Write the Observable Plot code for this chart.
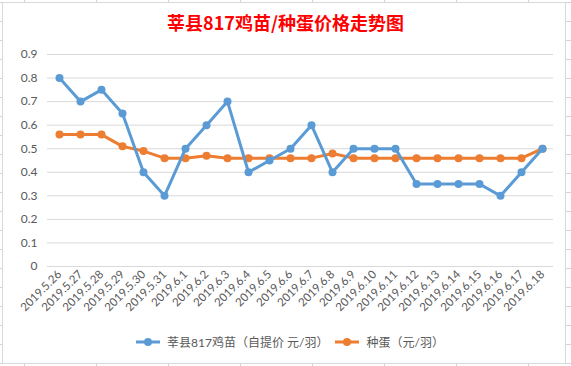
<!DOCTYPE html>
<html>
<head>
<meta charset="utf-8">
<script src="https://cdn.jsdelivr.net/npm/d3@7"></script>
<script src="https://cdn.jsdelivr.net/npm/@observablehq/plot@0.6"></script>
<style>
  html, body { margin: 0; padding: 0; }
  body {
    width: 571px; height: 366px; overflow: hidden; position: relative;
    background-color: #fff;
    background-image:
      repeating-linear-gradient(to right, transparent 0, transparent 24px, #d4d4d4 24px, #d4d4d4 25px, transparent 25px, transparent 72px),
      repeating-linear-gradient(to bottom, transparent 0, transparent 2px, #d4d4d4 2px, #d4d4d4 3px, transparent 3px, transparent 19px);
    background-position: 0 0, 0 0;
    font-family: Lato, "Noto Sans CJK SC", sans-serif;
  }
  #chart {
    position: absolute; left: 2px; top: 2px; width: 562px; height: 360px;
    background: #fff; border: 1px solid #d9d9d9; box-sizing: content-box;
  }
  #title {
    position: absolute; left: 0; top: 9px; width: 571px; text-align: center;
    color: #ff0000; font: bold 18px "Noto Sans CJK SC", sans-serif; letter-spacing: 0px;
  }
  #plot { position: absolute; left: 0; top: 40px; }
  #legend {
    position: absolute; left: 4px; top: 333px; width: 571px; display: flex; justify-content: center;
    gap: 6px; font: 12px Lato, "Noto Sans CJK SC", sans-serif; color: #595959; align-items: center;
  }
  .item { display: flex; align-items: center; gap: 6px; }
</style>
</head>
<body>
<div id="chart"></div>
<div id="title">莘县817鸡苗/种蛋价格走势图</div>
<div id="plot"></div>
<div id="legend"></div>
<script>
const dates = ["2019.5.26","2019.5.27","2019.5.28","2019.5.29","2019.5.30","2019.5.31","2019.6.1","2019.6.2","2019.6.3","2019.6.4","2019.6.5","2019.6.6","2019.6.7","2019.6.8","2019.6.9","2019.6.10","2019.6.11","2019.6.12","2019.6.13","2019.6.14","2019.6.15","2019.6.16","2019.6.17","2019.6.18"];
const chickPrice = [0.8,0.7,0.75,0.65,0.4,0.3,0.5,0.6,0.7,0.4,0.45,0.5,0.6,0.4,0.5,0.5,0.5,0.35,0.35,0.35,0.35,0.3,0.4,0.5];
const eggPrice = [0.56,0.56,0.56,0.51,0.49,0.46,0.46,0.47,0.46,0.46,0.46,0.46,0.46,0.48,0.46,0.46,0.46,0.46,0.46,0.46,0.46,0.46,0.46,0.5];
const seriesNames = ["莘县817鸡苗（自提价 元/羽）", "种蛋（元/羽）"];
const colors = ["#5B9BD5", "#ED7D31"];
const yTicks = [0,0.1,0.2,0.3,0.4,0.5,0.6,0.7,0.8,0.9];

const chick = dates.map((d, i) => ({date: d, value: chickPrice[i]}));
const egg = dates.map((d, i) => ({date: d, value: eggPrice[i]}));

const plot = Plot.plot({
  width: 571,
  height: 290,
  marginLeft: 47,
  marginRight: 18,
  marginTop: 14,
  marginBottom: 64,
  style: {fontFamily: 'Lato, "Noto Sans CJK SC", sans-serif', background: "transparent", color: "#595959"},
  x: {type: "point", domain: dates, padding: 0.5, label: null},
  y: {domain: [0, 0.9], label: null},
  marks: [
    Plot.gridY(yTicks, {stroke: "#d9d9d9", strokeOpacity: 1, strokeWidth: 1}),
    Plot.axisY(yTicks, {tickSize: 0, tickPadding: 10, fontSize: 12, fill: "#595959", tickFormat: d => String(+d.toFixed(1))}),
    Plot.axisX({tickSize: 0, tickRotate: -45, tickPadding: 6, fontSize: 11.5, fill: "#595959"}),
    Plot.line(egg, {x: "date", y: "value", stroke: colors[1], strokeWidth: 3}),
    Plot.dot(egg, {x: "date", y: "value", fill: colors[1], r: 4}),
    Plot.line(chick, {x: "date", y: "value", stroke: colors[0], strokeWidth: 3}),
    Plot.dot(chick, {x: "date", y: "value", fill: colors[0], r: 4})
  ]
});
document.getElementById("plot").appendChild(plot);

const legend = document.getElementById("legend");
seriesNames.forEach((name, i) => {
  const item = document.createElement("div");
  item.className = "item";
  item.innerHTML = `<svg width="26" height="10"><line x1="1" y1="5" x2="25" y2="5" stroke="${colors[i]}" stroke-width="3"/><circle cx="13" cy="5" r="4" fill="${colors[i]}"/></svg><span>${name}</span>`;
  legend.appendChild(item);
});
</script>
</body>
</html>
